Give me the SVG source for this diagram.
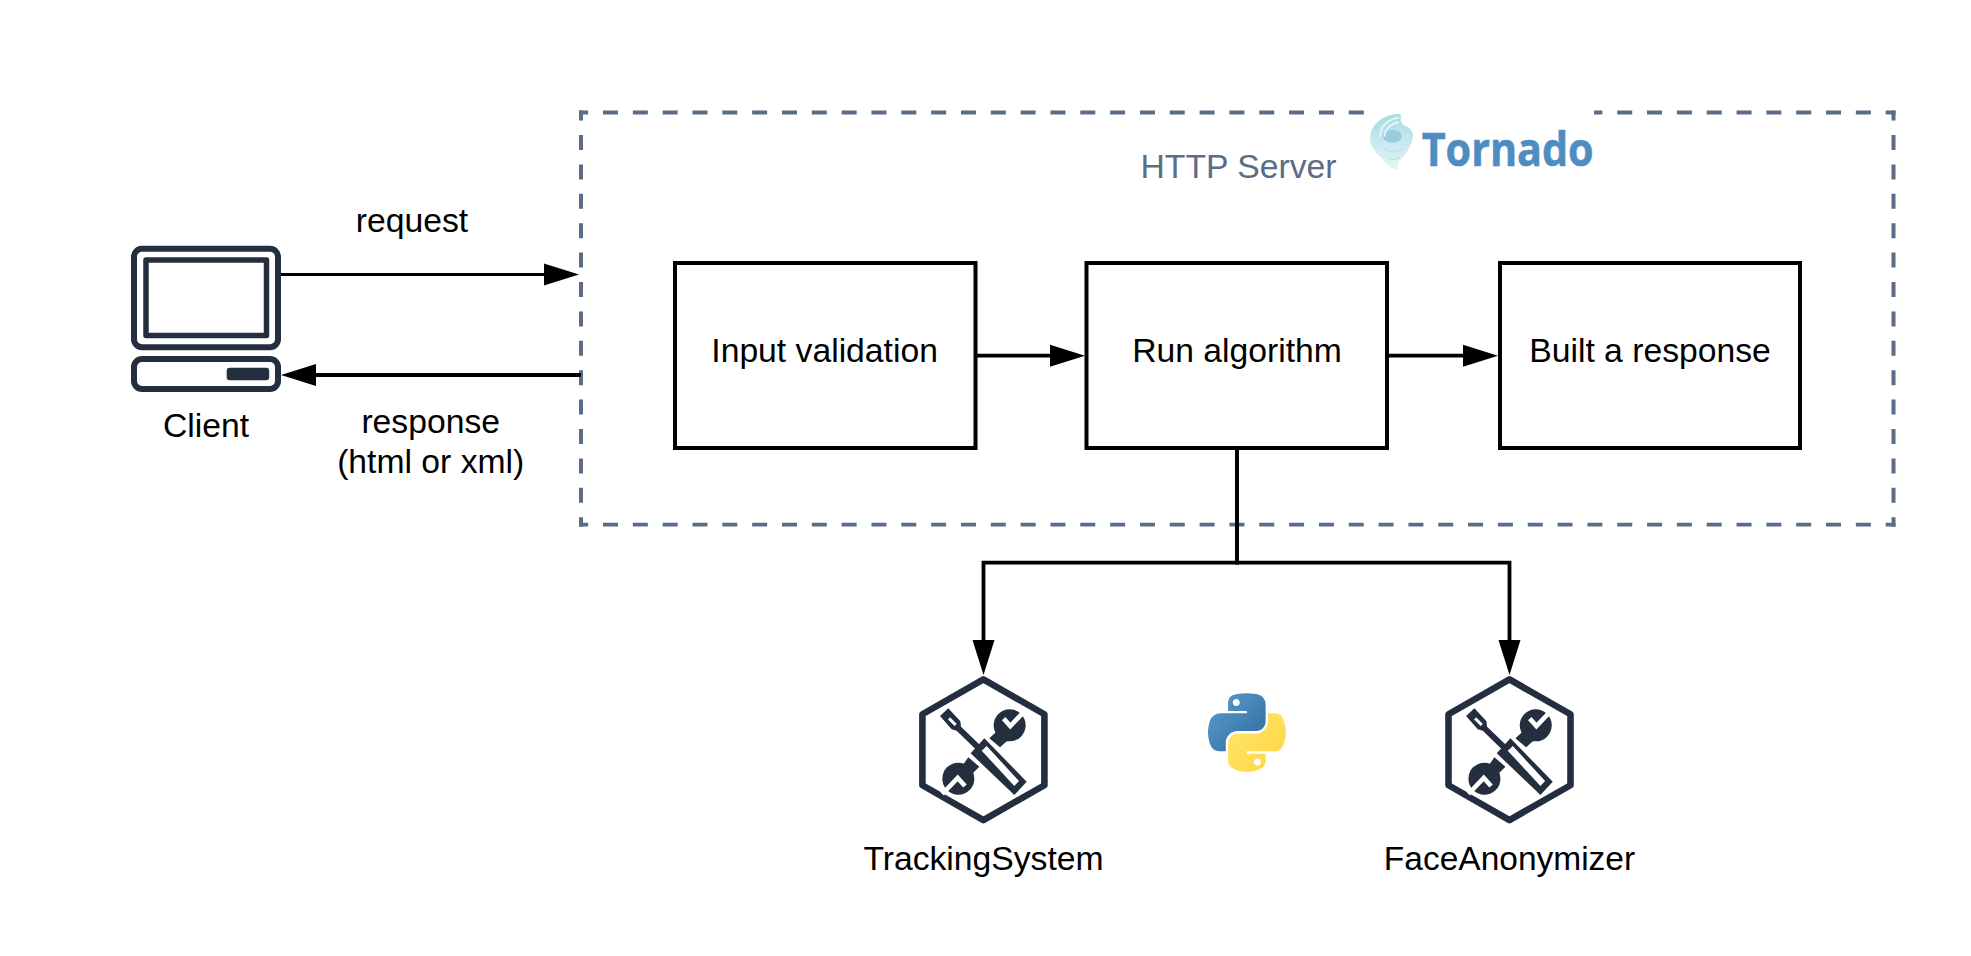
<svg xmlns="http://www.w3.org/2000/svg" width="1971" height="956" viewBox="0 0 1971 956">
<style>
text{font-family:"Liberation Sans",Arial,sans-serif;font-size:33.7px;fill:#000;text-anchor:middle}
.box{fill:#fff;stroke:#000;stroke-width:4}
.con{fill:none;stroke:#000;stroke-width:3.8}
.ink{fill:none;stroke:#232f3e;stroke-linejoin:round}
.dark{fill:#232f3e}
.hd{fill:none;stroke:#5a6c86;stroke-width:3.8;stroke-dasharray:15 14.83;stroke-dashoffset:5.83}
.vd{fill:none;stroke:#5a6c86;stroke-width:4;stroke-dasharray:15 14.4;stroke-dashoffset:4.9}
</style>
<defs>
<marker id="arrow" markerUnits="userSpaceOnUse" markerWidth="36" markerHeight="24" refX="0" refY="12" orient="auto"><path d="M0 1 L35 12 L0 23Z" fill="#000"/></marker>
<linearGradient id="pyb" x1="0" y1="0" x2="1" y2="1"><stop offset="0" stop-color="#5a9fd4"/><stop offset="1" stop-color="#306998"/></linearGradient>
<linearGradient id="pyy" x1="0" y1="0" x2="1" y2="1"><stop offset="0" stop-color="#ffe873"/><stop offset="1" stop-color="#ffd43b"/></linearGradient>
<linearGradient id="tor" x1="0" y1="0" x2="0" y2="1"><stop offset="0" stop-color="#a8dbe6"/><stop offset="1" stop-color="#e6f5f6"/></linearGradient>
<g id="tools">
<path class="ink" stroke-width="6.6" stroke-linejoin="miter" d="M0 -70.3 L61 -35.5 L61 35.5 L0 70.3 L-61 35.5 L-61 -35.5Z"/>
<g transform="translate(-48.4,-49.75) scale(.3333)">
<path class="dark" d="M15 48 L40 25 L76 64 L78 80 L135 135 L122 148 L65 92 L50 88Z"/>
<path d="M42 55 L62 75" fill="none" stroke="#fff" stroke-width="9"/>
<path class="dark" fill-rule="evenodd" d="M107 160 L148 115 L275 245 L238 285Z M140 152 L155 138 L252 243 L238 258Z"/>
<circle class="dark" cx="224" cy="76" r="48"/>
<path class="dark" d="M163 115 L190 90 L222 118 L195 142Z"/>
<circle class="dark" cx="70" cy="236" r="48"/>
<path class="dark" d="M100 172 L133 200 L108 225 L80 200Z"/>
<path d="M272 30 L226 78 L206 56" fill="none" stroke="#fff" stroke-width="14"/>
<path d="M22 282 L68 234 L90 258" fill="none" stroke="#fff" stroke-width="14"/>
</g>
</g>
</defs>
<rect width="1971" height="956" fill="#fff"/>
<g id="http-server">
<path class="hd" d="M579 112.5H1895.5"/>
<path class="hd" d="M579 524.7H1895.5"/>
<path class="vd" d="M581 110.5V526.7"/>
<path class="vd" d="M1893.5 110.5V526.7"/>
<text x="1238.5" y="177.5" style="fill:#5a6c86">HTTP Server</text>
</g>
<g id="tornado-logo">
<rect x="1364.5" y="100" width="229.5" height="72" fill="#fff"/>
<g transform="translate(1100,90) scale(.3448)">
<path d="M872 70 C838 68 800 85 786 120 C778 150 790 175 815 195 C825 205 835 222 858 232 C868 228 860 215 868 205 C885 190 908 160 908 130 C905 112 890 105 878 100 L872 88Z" fill="url(#tor)"/>
<ellipse cx="848" cy="134" rx="27" ry="19" fill="#9ccbe0"/>
<path d="M868 80 C835 84 812 105 812 135 M866 94 C845 97 826 112 826 135" fill="none" stroke="#e8f6f8" stroke-width="5"/>
<path d="M822 170 C840 182 860 180 882 170 M840 200 C850 204 862 200 870 195" fill="none" stroke="#b6dfe8" stroke-width="3"/>
</g>
<text x="1507.7" y="166" textLength="172" lengthAdjust="spacingAndGlyphs" style="font-family:'Open Sans',sans-serif;font-weight:700;font-size:47px;fill:#4d8dc1;stroke:#4d8dc1;stroke-width:.6">Tornado</text>
</g>
<g id="client">
<rect class="ink" x="134" y="248.7" width="144" height="98.5" rx="8" stroke-width="6"/>
<rect class="ink" x="146" y="260" width="120.5" height="75.5" stroke-width="5.5"/>
<rect class="ink" x="134" y="359" width="144" height="30" rx="8" stroke-width="6"/>
<rect class="dark" x="226.7" y="367.7" width="42.5" height="12.5" rx="3"/>
<text x="206" y="436.5">Client</text>
</g>
<g id="input-validation"><rect class="box" x="675" y="263" width="300.5" height="185"/><text x="824.6" y="362.3">Input validation</text></g>
<g id="run-algorithm"><rect class="box" x="1086.5" y="263" width="300.5" height="185"/><text x="1237" y="362.3">Run algorithm</text></g>
<g id="built-response"><rect class="box" x="1500" y="263" width="300" height="185"/><text x="1650" y="362.3">Built a response</text></g>
<g id="tracking-system"><use href="#tools" x="983.4" y="749.75"/><text x="983.5" y="870">TrackingSystem</text></g>
<g id="python-logo" transform="translate(1208,693.2) scale(.7)">
<path fill="url(#pyb)" fill-rule="evenodd" d="M54.9 0C50.3 0 46 .4 42.1 1.1 30.8 3.1 28.7 7.3 28.7 15V25.3H55.5V28.7H18.6C10.8 28.7 4 33.3 1.9 42.3-.6 52.5-.6 58.8 1.9 69.5 3.8 77.4 8.3 83 16.1 83H25.4V70.8C25.4 62 33 54.1 42.1 54.1H68.9C76.3 54.1 82.3 48 82.3 40.5V15C82.3 7.8 76.2 2.3 68.9 1.1 64.3.3 59.5 0 54.9 0ZM40.4 8.2C43.2 8.2 45.5 10.5 45.5 13.3 45.5 16.2 43.2 18.4 40.4 18.4 37.6 18.4 35.4 16.2 35.4 13.3 35.4 10.5 37.6 8.2 40.4 8.2Z"/>
<path fill="url(#pyy)" fill-rule="evenodd" d="M85.6 28.7V40.6C85.6 49.8 77.8 57.6 68.9 57.6H42.1C34.8 57.6 28.7 63.8 28.7 71.2V96.7C28.7 104 35 108.3 42.1 110.3 50.6 112.8 58.7 113.3 68.9 110.3 75.6 108.4 82.3 104.5 82.3 96.7V86.5H55.5V83.1H95.7C103.5 83.1 106.4 77.7 109.1 69.5 111.9 61 111.8 52.9 109.1 42.3 107.2 34.6 103.5 28.7 95.7 28.7ZM70.6 93.3C73.4 93.3 75.6 95.6 75.6 98.4 75.6 101.2 73.4 103.5 70.6 103.5 67.8 103.5 65.6 101.2 65.6 98.4 65.6 95.6 67.8 93.3 70.6 93.3Z"/>
</g>
<g id="face-anonymizer"><use href="#tools" x="1509.5" y="749.75"/><text x="1509.5" y="870" style="font-size:33.5px">FaceAnonymizer</text></g>
<g id="labels">
<text x="412" y="232">request</text>
<text x="430.7" y="432.5">response</text>
<text x="430.7" y="473">(html or xml)</text>
</g>
<g id="connectors">
<path class="con" style="stroke-width:3" marker-end="url(#arrow)" d="M281 274.5H544"/>
<path class="con" marker-end="url(#arrow)" d="M581 375H316"/>
<path class="con" marker-end="url(#arrow)" d="M975.5 355.7H1050"/>
<path class="con" marker-end="url(#arrow)" d="M1387 355.7H1463"/>
<path class="con" marker-end="url(#arrow)" d="M1237 448V562.6H983.5V640"/>
<path class="con" marker-end="url(#arrow)" d="M1237 448V562.6H1509.5V640"/>
</g>
</svg>
